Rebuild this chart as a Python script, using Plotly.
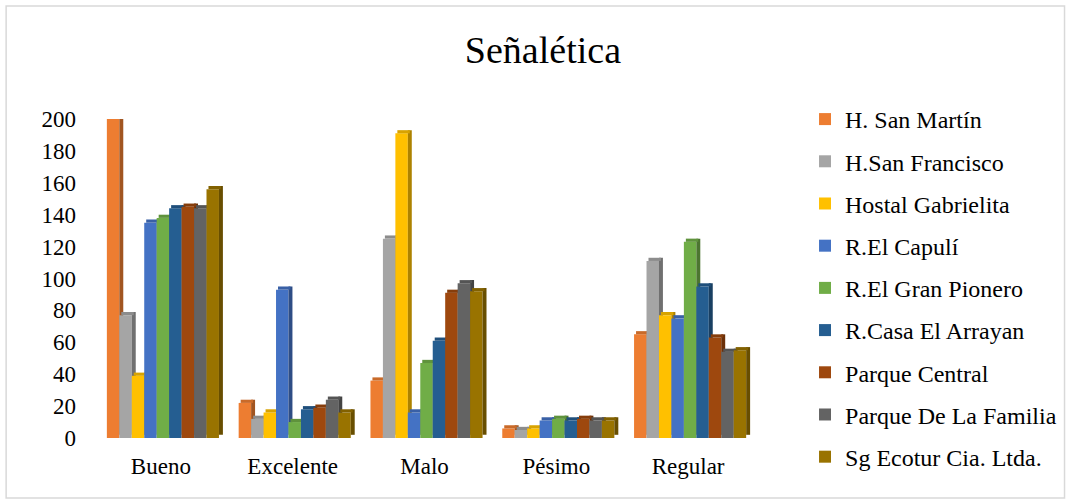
import plotly.graph_objects as go

# Survey answers on signage, grouped by rating
categories = ["Bueno", "Excelente", "Malo", "Pésimo", "Regular"]

h_san_martin = [200, 22, 36, 6, 65]
h_san_francisco = [77, 12, 125, 5, 111]
hostal_gabrielita = [39, 16, 191, 6, 77]
r_el_capuli = [135, 93, 16, 11, 75]
r_el_gran_pionero = [138, 10, 47, 12, 123]
r_casa_el_arrayan = [144, 18, 61, 11, 95]
parque_central = [145, 19, 91, 12, 63]
parque_de_la_familia = [144, 24, 97, 11, 54]
sg_ecotur = [156, 16, 92, 11, 55]

series_names = [
    "H. San Martín", "H.San Francisco", "Hostal Gabrielita", "R.El Capulí",
    "R.El Gran Pionero", "R.Casa El Arrayan", "Parque Central",
    "Parque De La Familia", "Sg Ecotur Cia. Ltda.",
]
series_values = [
    h_san_martin, h_san_francisco, hostal_gabrielita, r_el_capuli,
    r_el_gran_pionero, r_casa_el_arrayan, parque_central,
    parque_de_la_familia, sg_ecotur,
]
colors = ["#ED7D31", "#A5A5A5", "#FFC000", "#4472C4", "#70AD47",
          "#255E91", "#9E480E", "#636363", "#997300"]


def shade(hex_color, f):
    h = hex_color.lstrip("#")
    r, g, b = (int(h[i:i + 2], 16) for i in (0, 2, 4))
    return "rgb({},{},{})".format(int(r * f), int(g * f), int(b * f))


FONT = "Liberation Serif, Times New Roman, serif"
bar_w = 0.0945      # front face width (category units)
side_w = 0.03       # depth of the side face
depth = 2.0         # vertical depth of the top face (data units)
start = -0.41

fig = go.Figure()
for i, (name, vals, col) in enumerate(zip(series_names, series_values, colors)):
    off = start + i * bar_w
    # front face
    fig.add_trace(go.Bar(
        x=categories, y=vals, name=name, offset=off, width=bar_w,
        marker=dict(color=col, line=dict(width=0)),
        legendgroup=name, cliponaxis=False, hoverinfo="x+y+name",
    ))
    # right side face
    fig.add_trace(go.Bar(
        x=categories, y=vals, base=depth, offset=off + bar_w, width=side_w,
        marker=dict(color=shade(col, 0.68), line=dict(width=0)),
        legendgroup=name, showlegend=False, cliponaxis=False, hoverinfo="skip",
    ))
    # top face
    fig.add_trace(go.Bar(
        x=categories, y=[depth] * len(vals), base=vals,
        offset=off + side_w / 2, width=bar_w,
        marker=dict(color=shade(col, 0.85), line=dict(width=0)),
        legendgroup=name, showlegend=False, cliponaxis=False, hoverinfo="skip",
    ))

fig.update_layout(
    width=1073, height=499,
    margin=dict(l=95, r=318, t=119, b=61),
    paper_bgcolor="white", plot_bgcolor="white",
    barmode="overlay",
    font=dict(family=FONT, size=23, color="#000000"),
    title=dict(text="Señalética", x=0.506, xref="container", xanchor="center",
               y=0.9, yref="container", yanchor="middle",
               font=dict(family=FONT, size=38, color="#000000")),
    showlegend=True,
    legend=dict(x=1.0758, xanchor="left", y=1.069, yanchor="top",
                font=dict(family=FONT, size=24), tracegroupgap=8,
                itemwidth=30, maxheight=1.0, bgcolor="rgba(0,0,0,0)"),
    xaxis=dict(type="category", showgrid=False, zeroline=False, showline=False,
               ticks="", ticklabelstandoff=12, tickfont=dict(size=23)),
    yaxis=dict(range=[0, 200], dtick=20, showgrid=False, zeroline=False,
               showline=False, ticks="", ticklabelstandoff=18,
               tickfont=dict(size=23)),
    shapes=[dict(type="rect", xref="paper", yref="paper",
                 x0=-89 / 660, x1=1066 / 660 - 95 / 660,
                 y0=-60 / 319, y1=(438 - 6) / 319,
                 line=dict(color="#D9D9D9", width=1.5), layer="below")],
)

fig.write_html("out.html")
